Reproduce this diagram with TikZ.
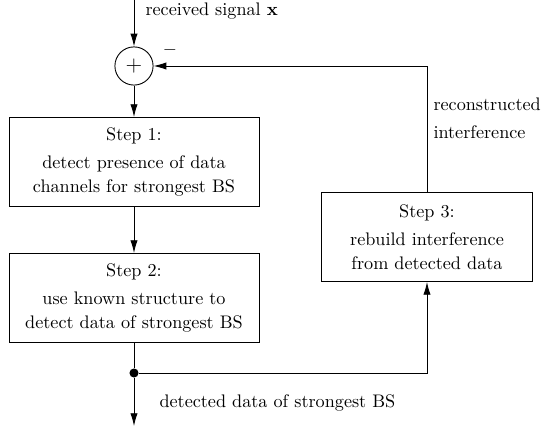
\documentclass[tikz,border=0pt]{standalone}
\usetikzlibrary{arrows.meta,positioning}
\tikzset{pin/.style={-{Latex[length=7pt,width=4pt]}},
  blk/.style={draw, minimum height=49pt, align=center, inner sep=2pt,
    font=\fontsize{10}{13.2}\selectfont}}

\begin{document}
\begin{tikzpicture}[x=0.55pt, y=-0.55pt, line width=0.5pt]
  \useasboundingbox (0,0) rectangle (547,427);
  % adder
  \coordinate (in) at (134,0);
  \node[draw, circle, minimum size=21pt, inner sep=0pt, font=\large] (sum) at (134,66) {$+$};
  \draw[pin] (in) -- (sum.north);
  \node[anchor=west] (rx) at (139,11) {received signal $\mathbf{x}$};
  \node (minus) at (170,50) {$-$};
  % detection steps
  \node[blk, minimum width=137.5pt] (st1) at (134,162) {Step 1:\\[2.2pt] detect presence of data\\ channels for strongest BS};
  \node[blk, minimum width=137.5pt] (st2) at (134,298) {Step 2:\\[2.2pt] use known structure to\\ detect data of strongest BS};
  \node[blk, minimum width=116pt] (st3) at (427,237) {Step 3:\\[2.2pt] rebuild interference\\ from detected data};
  \draw[pin] (sum.south) -- (st1.north);
  \draw[pin] (st1.south) -- (st2.north);
  % output and feedback
  \node[circle, fill, inner sep=0pt, minimum size=5pt] (tap) at (134,373) {};
  \coordinate (out) at (134,426);
  \draw (st2.south) -- (tap);
  \draw[pin] (tap) -- (out);
  \node[anchor=west] (dd) at (153,403) {detected data of strongest BS};
  \draw[pin] (tap) -| (st3.south);
  \draw[pin] (st3.north) |- (sum.east);
  \node[anchor=north west, align=left, font=\fontsize{10}{15.4}\selectfont] (ri) at (427,91) {reconstructed\\ interference};
\end{tikzpicture}
\end{document}
